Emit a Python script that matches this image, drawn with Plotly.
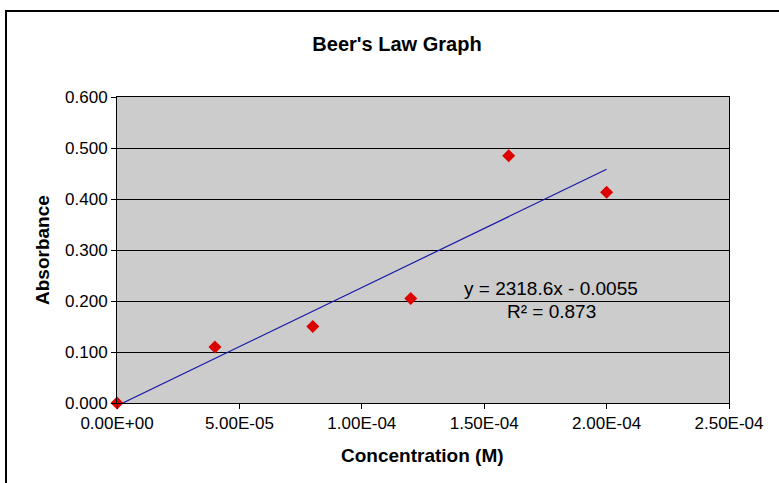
import plotly.graph_objects as go

concentration = [0.0, 4.0e-5, 8.0e-5, 1.2e-4, 1.6e-4, 2.0e-4]
absorbance = [0.000, 0.110, 0.150, 0.205, 0.485, 0.413]

slope = 2318.6
intercept = -0.0055
r_squared = 0.873

trend_x = [concentration[0], concentration[-1]]
trend_y = [slope * x + intercept for x in trend_x]

x_ticks = [0.0, 5.0e-5, 1.0e-4, 1.5e-4, 2.0e-4, 2.5e-4]
x_tick_labels = ["0.00E+00", "5.00E-05", "1.00E-04", "1.50E-04", "2.00E-04", "2.50E-04"]
y_ticks = [0.0, 0.1, 0.2, 0.3, 0.4, 0.5, 0.6]
y_tick_labels = ["0.000", "0.100", "0.200", "0.300", "0.400", "0.500", "0.600"]

FONT = "Liberation Sans, Arial, sans-serif"

fig = go.Figure()
fig.add_trace(go.Scatter(
    x=trend_x, y=trend_y, mode="lines",
    line=dict(color="#1a1aa8", width=1.2),
    hoverinfo="skip", showlegend=False, cliponaxis=True,
))
fig.add_trace(go.Scatter(
    x=concentration, y=absorbance, mode="markers",
    marker=dict(symbol="diamond", color="#dd0000", size=10, line=dict(width=0)),
    showlegend=False, cliponaxis=False,
))

W, H = 779, 483
L, R, T, B = 117, 50, 97, 80
pw, ph = W - L - R, H - T - B

def px_to_paper_x(px):
    return (px - L) / pw

def px_to_paper_y(py):
    return (H - B - py) / ph

fig.update_layout(
    width=W, height=H,
    margin=dict(l=L, r=R, t=T, b=B, pad=0),
    paper_bgcolor="white",
    plot_bgcolor="#cccccc",
    font=dict(family=FONT, size=17, color="black"),
    title=dict(text="<b>Beer's Law Graph</b>", x=397 / W, xref="container", xanchor="center",
               y=1 - 44 / H, yref="container", yanchor="middle",
               font=dict(size=20, family=FONT, color="black")),
    xaxis=dict(
        range=[0, 2.5e-4], tickmode="array", tickvals=x_ticks, ticktext=x_tick_labels,
        ticks="outside", ticklen=5, tickcolor="black", tickwidth=1,
        showgrid=False, zeroline=False, showline=True, linecolor="black", linewidth=1,
        mirror=True, tickfont=dict(size=17, family=FONT), fixedrange=True,
    ),
    yaxis=dict(
        range=[0, 0.6], tickmode="array", tickvals=y_ticks, ticktext=y_tick_labels,
        ticks="outside", ticklen=5, tickcolor="black", tickwidth=1,
        showgrid=True, gridcolor="black", gridwidth=1,
        zeroline=False, showline=True, linecolor="black", linewidth=1,
        mirror=True, tickfont=dict(size=17, family=FONT), fixedrange=True,
    ),
    annotations=[
        dict(text="<b>Concentration (M)</b>", x=px_to_paper_x(422), y=px_to_paper_y(455),
             xref="paper", yref="paper", showarrow=False, xanchor="center", yanchor="middle",
             font=dict(size=19, family=FONT)),
        dict(text="<b>Absorbance</b>", x=px_to_paper_x(42), y=px_to_paper_y(250), textangle=-90,
             xref="paper", yref="paper", showarrow=False, xanchor="center", yanchor="middle",
             font=dict(size=19, family=FONT)),
        dict(text=f"y = {slope}x - {abs(intercept)}", x=px_to_paper_x(551), y=px_to_paper_y(288),
             xref="paper", yref="paper", showarrow=False, xanchor="center", yanchor="middle",
             font=dict(size=19, family=FONT)),
        dict(text=f"R² = {r_squared}", x=px_to_paper_x(551), y=px_to_paper_y(311),
             xref="paper", yref="paper", showarrow=False, xanchor="center", yanchor="middle",
             font=dict(size=19, family=FONT)),
    ],
    shapes=[
        dict(type="rect", xref="paper", yref="paper",
             x0=px_to_paper_x(6), x1=px_to_paper_x(800),
             y0=px_to_paper_y(500), y1=px_to_paper_y(11),
             line=dict(color="black", width=2), fillcolor="rgba(0,0,0,0)", layer="below"),
    ],
)

fig.write_html("out.html", config={"displayModeBar": False},
               post_script="document.body.style.margin='0';")
